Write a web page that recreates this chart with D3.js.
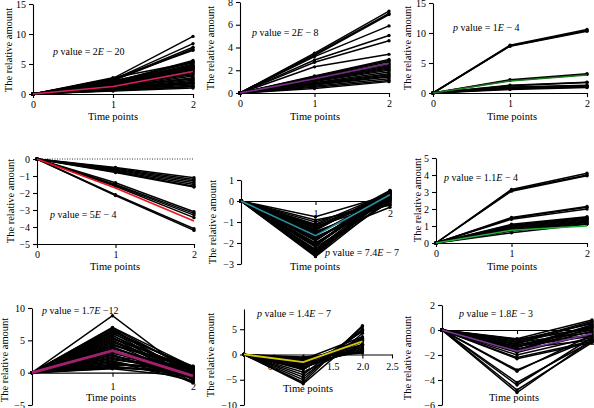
<!DOCTYPE html>
<html><head><meta charset="utf-8">
<script src="https://cdn.jsdelivr.net/npm/d3@7"></script>
<style>body{margin:0;background:#fff}svg{display:block}svg text{font-family:"Liberation Serif","Times New Roman",serif !important;fill:#000}</style>
</head><body><svg id="c" width="594" height="408" style="font-family:'Liberation Serif','Times New Roman',serif"></svg>
<script>
const timePoints = [0, 1, 2];

// Panel 1
const p1Time1 = [2.6, 2.4, 2.3, 2.2, 2.5, 2.0, 1.9, 2.1, 1.8, 1.7, 1.6, 1.5, 1.6, 1.4, 1.5, 1.3, 1.4, 1.2, 1.3, 1.1, 1.0, 1.1, 0.9, 0.9, 0.8, 0.7, 0.7, 0.6, 0.6, 0.5, 2.7, 2.2, 1.9, 1.7, 1.2, 1.0];
const p1Time2 = [9.6, 8.4, 7.8, 7.5, 7.3, 5.6, 5.4, 5.2, 5.0, 4.8, 4.6, 4.5, 4.3, 4.1, 4.0, 3.8, 3.6, 3.4, 3.2, 3.0, 2.7, 2.5, 2.3, 2.1, 1.9, 1.7, 1.5, 1.3, 1.2, 1.0, 5.3, 4.7, 4.4, 4.2, 2.6, 1.8];
const p1Mean = [0, 1.25, 3.75];
// Panel 2
const p2Time1 = [3.5, 3.4, 3.3, 3.2, 2.9, 2.7, 2.3, 1.5, 1.45, 1.4, 1.35, 1.3, 1.2, 1.1, 1.15, 1.05, 1.0, 0.9, 0.85, 0.8, 0.75, 0.7, 0.6, 0.5, 0.4];
const p2Time2 = [7.2, 7.0, 6.9, 5.9, 5.05, 4.6, 3.4, 2.95, 2.85, 2.75, 2.6, 2.5, 2.4, 2.3, 2.2, 2.1, 2.0, 1.85, 1.7, 1.6, 1.5, 1.4, 1.25, 1.1, 1.0];
const p2Mean = [0, 1.25, 2.6];
// Panel 3
const p3Time1 = [7.95, 7.85, 7.8, 2.2, 2.1, 1.3, 1.2, 1.0, 0.9, 0.8, 0.7, 0.6];
const p3Time2 = [10.6, 10.4, 10.3, 3.2, 3.1, 1.8, 1.75, 1.3, 1.2, 1.1, 1.0, 0.9];
const p3Mean = [0, 2.0, 3.0];
// Panel 4
const p4Time1 = [-0.5, -0.55, -0.6, -0.65, -0.7, -0.75, -0.8, -1.4, -1.5, -1.55, -1.6, -2.1, -2.15];
const p4Time2 = [-1.1, -1.2, -1.3, -1.4, -1.5, -1.6, -1.65, -3.1, -3.2, -3.3, -3.45, -4.1, -4.2];
const p4Mean = [0, -1.7, -3.65];
// Panel 5
const p5Time1 = [-0.75, -0.9, -1.0, -1.1, -1.2, -1.3, -1.4, -1.5, -1.6, -1.7, -1.8, -1.9, -2.0, -2.1, -2.2, -2.3, -2.4, -2.5, -2.6, -2.65, -1.25, -1.45, -1.75, -2.05, -2.35, -1.15, -1.35, -1.55, -1.85, -2.15, -2.45, -2.55];
const p5Time2 = [0.3, -0.2, 0.1, 0.4, -0.1, 0.2, 0.5, 0.0, 0.35, -0.3, 0.25, 0.45, 0.1, 0.3, -0.05, 0.4, 0.2, 0.5, 0.35, 0.15, 0.3, -0.15, 0.05, 0.45, 0.25, 0.2, 0.4, 0.1, 0.3, 0.45, 0.0, 0.3];
const p5Mean = [0, -1.65, 0.3];
// Panel 6
const p6Time1 = [3.15, 3.1, 3.05, 1.5, 1.45, 1.4, 1.1, 1.05, 1.0, 0.95, 0.9, 0.85, 0.8, 0.75, 0.7, 0.6];
const p6Time2 = [4.1, 4.0, 3.95, 2.15, 2.1, 2.0, 1.55, 1.5, 1.45, 1.4, 1.35, 1.3, 1.25, 1.2, 1.15, 1.1];
const p6Mean = [0, 0.75, 1.0];
// Panel 7
const p7Time1 = [8.8, 7.0, 6.8, 6.5, 6.2, 6.0, 5.7, 5.5, 5.2, 5.0, 4.7, 4.5, 4.2, 4.0, 3.7, 3.5, 3.2, 3.0, 2.7, 2.5, 2.2, 2.0, 1.7, 1.5, 1.2, 1.0, 0.8, 0.6, 6.9, 6.6, 6.3, 5.8, 5.3, 4.8, 4.3, 3.8, 3.3, 2.8, 2.3, 1.8, 1.3, 0.9, 0.7];
const p7Time2 = [-0.6, 0.9, -1.2, 0.5, -0.8, 1.0, 0.2, -1.5, 0.7, -0.3, 0.4, -1.0, 0.8, -0.5, 0.3, -1.6, 0.6, 0.0, -0.9, 0.9, -0.2, 0.5, -1.3, 0.1, 0.7, -0.4, 0.2, -0.7, 0.3, -0.4, 0.8, -1.1, 0.6, -0.6, 1.0, -0.2, 0.5, -1.4, 0.4, -0.8, 0.9, 0.0, 0.3];
const p7Mean = [0, 3.4, -0.5];
// Panel 8
const p8Time1 = [-0.5, -0.8, -1.0, -1.2, -1.5, -1.8, -2.0, -2.3, -2.5, -2.8, -3.0, -3.5, -4.0, -4.5, -5.0, -5.5, -5.8, -0.7, -1.1, -1.4, -1.7, -2.1, -2.6];
const p8Time2 = [0.5, 1.0, 3.5, 1.5, 2.0, 3.0, 0.8, 2.5, 1.2, 3.2, 4.5, 2.0, 5.0, 4.8, 5.5, 5.7, 4.2, 0.3, 1.8, 2.8, 0.6, 3.3, 1.5];
const p8Mean = [0, -1.5, 2.6];
// Panel 9
const p9Time1 = [-0.7, -0.8, -0.9, -1.0, -1.1, -1.2, -1.3, -1.4, -1.5, -1.6, -1.8, -2.0, -2.2, -2.3, -3.2, -3.3, -4.2, -4.4, -4.8, -5.0, -0.75, -0.95, -1.15, -1.35, -1.55, -1.7];
const p9Time2 = [0.8, 0.5, 0.2, -0.2, 0.6, 0.0, -0.5, 0.3, -0.8, 0.4, -0.3, -0.6, -0.9, -1.0, -0.7, -0.4, -0.9, -0.6, -1.0, -0.8, 0.1, 0.7, -0.4, 0.4, -0.1, 0.2];
const p9Mean = [0, -1.7, -0.3];

// tick labels
const yTicks = [[0,5,10,15],[0,2,4,6,8],[0,5,10,15],[0,-1,-2,-3,-4,-5],[1,0,-1,-2,-3],[0,1,2,3,4,5],[10,5,0,-5],[5,0,-5,-10],[2,0,-2,-4,-6]];
const xTicks = [[0,1,2],[0,1,2],[0,1,2],[0,1,2],[1,2],[0,1,2],[1,2],[0.5,1,1.5,2,2.5],[1,2]];
const pMantissa = ["2","2","1","5","7.4","1.1","1.7","1.4","1.8"];
const pExponent = ["− 20","− 8","− 4","− 4","− 7","− 4","−12","− 7","− 3"];
const meanColors = ["#dc1f5a","#7a2a8a","#1e7a1e","#e8141c","#2a8fa0","#1fae3a","#a3206f","#d8c800","#7d3a9a"];

const series = [
  [p1Time1,p1Time2,p1Mean],[p2Time1,p2Time2,p2Mean],[p3Time1,p3Time2,p3Mean],
  [p4Time1,p4Time2,p4Mean],[p5Time1,p5Time2,p5Mean],[p6Time1,p6Time2,p6Mean],
  [p7Time1,p7Time2,p7Mean],[p8Time1,p8Time2,p8Mean],[p9Time1,p9Time2,p9Mean]
];

// layout (pixel geometry)
const layout = [
  {l:33,r:193,t:4,b:94,xd:[0,2],yd:[0,15],axisAt:"bottom",pad:3,ty:[10,50],tx:[113,118],px:[53,53],mw:1.6},
  {l:240,r:389,t:2,b:93,xd:[0,2],yd:[0,8],axisAt:"bottom",pad:3,ty:[212,48],tx:[315,118],px:[252,34],mw:1.6},
  {l:433,r:587,t:3,b:93,xd:[0,2],yd:[0,15],axisAt:"bottom",pad:3,ty:[409,48],tx:[512,118],px:[453,29],mw:1.6},
  {l:37,r:194,t:159,b:244,xd:[0,2],yd:[-5,0],axisAt:"bottom",pad:3,ty:[12,201],tx:[115,268],px:[50,216],mw:1.6,dotted:true},
  {l:241,r:390,t:180,b:264,xd:[0,2],yd:[-3,1],axisAt:"zero",pad:5,ty:[214,222],tx:[315,268],px:[325,254],mw:1.6},
  {l:436,r:587,t:158,b:243,xd:[0,2],yd:[0,5],axisAt:"bottom",pad:3,ty:[419,200],tx:[512,268],px:[444,179],mw:1.6},
  {l:32,r:193,t:308,b:405,xd:[0,2],yd:[-5,10],axisAt:"zero",pad:6,ty:[6,360],tx:[111,399],px:[42,312],mw:2.8},
  {l:244,r:392,t:309,b:405,xd:[0,2.5],yd:[-10,9],axisAt:"zero",pad:4,ty:[212,355],tx:[308,390],px:[257,315],mw:1.8},
  {l:442,r:592,t:305,b:405,xd:[0,2],yd:[-6,2],axisAt:"zero",pad:4,ty:[409,358],tx:[514,399],px:[459,315],mw:1.6}
];

const FONT = "'Liberation Serif','Times New Roman',serif";
const svg = d3.select("#c");
const fmt = d => {
  const s = Number.isInteger(d) ? String(Math.abs(d)) : Math.abs(d).toFixed(1);
  return (d < 0 ? "−" : "") + s;
};

layout.forEach((cfg, i) => {
  const g = svg.append("g");
  const x = d3.scaleLinear().domain(cfg.xd).range([cfg.l, cfg.r]);
  const y = d3.scaleLinear().domain(cfg.yd).range([cfg.b, cfg.t]);

  if (cfg.dotted) {
    g.append("line").attr("x1", x(0)).attr("x2", x(2)).attr("y1", y(0)).attr("y2", y(0))
      .attr("stroke", "#000").attr("stroke-width", 0.8).attr("stroke-dasharray", "1,1.5");
  }

  const ya = g.append("g").attr("transform", `translate(${cfg.l},0)`)
    .call(d3.axisLeft(y).tickValues(yTicks[i]).tickSize(4).tickSizeOuter(0).tickPadding(3).tickFormat(fmt));
  const yPos = cfg.axisAt === "bottom" ? cfg.b : y(0);
  const xa = g.append("g").attr("transform", `translate(0,${yPos})`)
    .call(d3.axisBottom(x).tickValues(xTicks[i]).tickSize(4).tickSizeOuter(0).tickPadding(cfg.pad)
      .tickFormat(i === 7 ? d3.format(".1f") : d3.format("d")));
  [ya, xa].forEach(a => {
    a.attr("font-family", FONT);
    a.selectAll("path,line").attr("stroke", "#000").attr("stroke-width", 1.1);
    a.selectAll("text").attr("font-size", 10).style("font-family", FONT);
  });

  const line = d3.line().x((d, k) => x(timePoints[k])).y(d => y(d));
  const [t1, t2, mean] = series[i];
  const rows = t1.map((v, k) => [0, v, t2[k]]);

  g.append("g").selectAll("path").data(rows).join("path")
    .attr("d", line).attr("fill", "none").attr("stroke", "#000").attr("stroke-width", 1.5);
  g.append("g").selectAll("circle").data(rows.flatMap(r => r.map((v, k) => [timePoints[k], v]))).join("circle")
    .attr("cx", d => x(d[0])).attr("cy", d => y(d[1])).attr("r", 1.7).attr("fill", "#000");
  g.append("path").datum(mean).attr("d", line).attr("fill", "none")
    .attr("stroke", meanColors[i]).attr("stroke-width", cfg.mw);

  g.append("text").attr("transform", `translate(${cfg.ty[0]},${cfg.ty[1]}) rotate(-90)`)
    .attr("text-anchor", "middle").attr("dominant-baseline", "middle").attr("font-size", 10.5)
    .style("font-family", FONT).text("The relative amount");
  g.append("text").attr("x", cfg.tx[0]).attr("y", cfg.tx[1]).attr("text-anchor", "middle")
    .attr("dominant-baseline", "middle").attr("font-size", 10.5).style("font-family", FONT).text("Time points");

  const pt = g.append("text").attr("x", cfg.px[0]).attr("y", cfg.px[1]).attr("dominant-baseline", "middle")
    .attr("font-size", 10).style("font-family", FONT);
  pt.append("tspan").attr("font-style", "italic").text("p");
  pt.append("tspan").text(" value = " + pMantissa[i]);
  pt.append("tspan").attr("font-style", "italic").text("E");
  pt.append("tspan").text(" " + pExponent[i]);
});
</script>
</body></html>
